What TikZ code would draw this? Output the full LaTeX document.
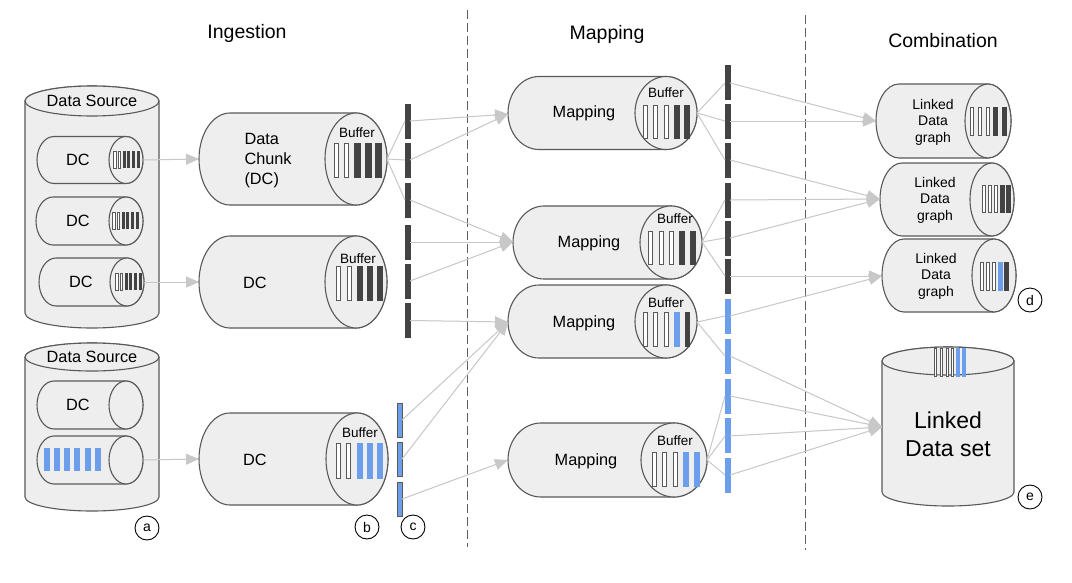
\documentclass[tikz,border=0pt]{standalone}
\usepackage{fontspec}
\setmainfont{Liberation Sans}
\usetikzlibrary{arrows.meta}
\definecolor{cylfill}{HTML}{EEEEEE}
\definecolor{cylline}{HTML}{595959}
\definecolor{darkbar}{HTML}{434343}
\definecolor{bluebar}{HTML}{6D9EEB}
\definecolor{connc}{HTML}{C8C8C8}
\definecolor{dashc}{HTML}{606060}
\tikzset{
  cyl/.style={fill=cylfill, draw=cylline, line width=1.1pt},
  wbar/.style={fill=white, draw=cylline, line width=0.8pt},
  sbar/.style={fill=white, draw=cylline, line width=0.6pt},
  dbar/.style={fill=darkbar, draw=darkbar, line width=0.5pt},
  ddbar/.style={fill=darkbar, draw=none},
  bbar/.style={fill=bluebar, draw=bluebar, line width=0.5pt},
  cbar/.style={fill=bluebar, draw=cylline, line width=0.8pt},
  conn/.style={draw=connc, line width=1pt},
  arr/.style={conn, -{Triangle[length=13pt,width=11pt]}, fill=connc},
  lbl/.style={circle, draw=black, line width=0.9pt, minimum size=24pt, inner sep=0pt, font=\fontsize{14}{16}\selectfont},
  ttl/.style={font=\fontsize{19.5}{22}\selectfont},
  txt/.style={font=\fontsize{16.3}{20}\selectfont, align=center},
  buf/.style={font=\fontsize{13.5}{15}\selectfont},
  ldt/.style={font=\fontsize{14}{16.5}\selectfont, align=center},
  sep/.style={draw=dashc, line width=1pt, dash pattern=on 9pt off 4pt},
}
\newcommand{\hcyl}[5]{% L R cy ry rx
  \filldraw[cyl] ({#1+#5},{#3-#4}) arc[start angle=270,end angle=90,x radius=#5,y radius=#4]
    -- ({#2-#5},{#3+#4}) arc[start angle=90,end angle=-90,x radius=#5,y radius=#4] -- cycle;
  \filldraw[cyl] ({#2-#5},#3) ellipse[x radius=#5,y radius=#4];
}
\newcommand{\vcyl}[5]{% cx rx ty by ry
  \filldraw[cyl] ({#1-#2},#3) -- ({#1-#2},#4) arc[start angle=180,end angle=0,x radius=#2,y radius=#5]
    -- ({#1+#2},#3) arc[start angle=0,end angle=-180,x radius=#2,y radius=#5] -- cycle;
  \filldraw[cyl] (#1,#3) ellipse[x radius=#2,y radius=#5];
}
\begin{document}
\begin{tikzpicture}[x=1pt,y=-1pt]
\useasboundingbox[fill=white] (0,0) rectangle (1072,582);

% titles
\node[ttl] (tIng) at (247,33) {Ingestion};
\node[ttl] (tMap) at (607,34) {Mapping};
\node[ttl] (tCom) at (943,41) {Combination};

% separators
\coordinate (s1a) at (467,10); \coordinate (s1b) at (467,547);
\coordinate (s2a) at (805,15); \coordinate (s2b) at (805,550);
\draw[sep] (s1a) -- (s1b);
\draw[sep] (s2a) -- (s2b);

% ---------- Data sources ----------
\vcyl{92}{67}{101}{313}{15}
\node[txt] (ds1) at (92,101) {Data Source};
\hcyl{37}{143}{160}{23.5}{17}
\hcyl{36}{143}{221}{24}{17}
\hcyl{39}{144}{282}{24}{17}
\node[txt] (dc1) at (78,160) {DC};
\node[txt] (dc2) at (78,221) {DC};
\node[txt] (dc3) at (81,282) {DC};
\foreach \i in {0,1} {\draw[sbar] ({113.5+4.8*\i},151) rectangle ++(2.4,17);}
\foreach \i in {2,...,5} {\fill[darkbar] ({113+4.8*\i},151) rectangle ++(3,17);}
\foreach \i in {0,1} {\draw[sbar] ({112.5+4.8*\i},212) rectangle ++(2.4,17);}
\foreach \i in {2,...,5} {\fill[darkbar] ({112+4.8*\i},212) rectangle ++(3,17);}
\foreach \i in {0,1} {\draw[sbar] ({115.5+4.8*\i},273) rectangle ++(2.4,17);}
\foreach \i in {2,...,5} {\fill[darkbar] ({115+4.8*\i},273) rectangle ++(3,17);}

\vcyl{92}{67}{357}{497}{14}
\node[txt] (ds2) at (92,357) {Data Source};
\hcyl{37}{143}{405}{24}{17}
\hcyl{37}{143}{460}{24}{17}
\node[txt] (dc4) at (78,405) {DC};
\foreach \i in {0,...,5} {\draw[bbar] ({44+10.2*\i},448) rectangle ++(5,22);}
\node[lbl] (la) at (147,528) {a};

% ---------- Ingestion ----------
\hcyl{199}{387}{159}{46}{31}
\node[txt, align=left, anchor=west] (b1t) at (241,161) {Data\\Chunk\\(DC)};
\node[buf] (b1b) at (357,133) {Buffer};
\foreach \x in {334,344} {\draw[wbar] (\x,143) rectangle ++(4,34);}
\foreach \x in {354,365,375} {\draw[dbar] (\x,143) rectangle ++(6,34);}

\hcyl{199}{387}{282}{46}{31}
\node[txt] (b2t) at (255,283) {DC};
\node[buf] (b2b) at (358,259) {Buffer};
\foreach \x in {336,347} {\draw[wbar] (\x,266) rectangle ++(4,34);}
\foreach \x in {357,367,377} {\draw[dbar] (\x,266) rectangle ++(5.5,34);}

\hcyl{199}{388}{459}{46}{31}
\node[txt] (b3t) at (255,460) {DC};
\node[buf] (b3b) at (360,433) {Buffer};
\foreach \x in {336,346} {\draw[wbar] (\x,443) rectangle ++(4,35);}
\foreach \x in {357,367,377} {\draw[bbar] (\x,443) rectangle ++(5.5,35);}

\node[lbl] (lb) at (367,527) {b};
\node[lbl] (lc) at (413,527) {c};

% ingestion output bars
\foreach \y in {104,143,183,225,264,303} {\draw[dbar] (405,\y) rectangle ++(5,34);}
\foreach \y in {403,442,482} {\draw[cbar] (397,\y) rectangle ++(5,34);}

% ---------- Mapping ----------
\hcyl{508}{697}{113}{36.5}{31}
\node[txt] (m1t) at (584,113) {Mapping};
\node[buf] (m1b) at (666,93) {Buffer};
\foreach \x in {643,653,664} {\draw[wbar] (\x,105) rectangle ++(4,33);}
\foreach \x in {674,684} {\draw[dbar] (\x,105) rectangle ++(5,33);}

\hcyl{513}{702}{242.5}{36.5}{31}
\node[txt] (m2t) at (589,243) {Mapping};
\node[buf] (m2b) at (675,219) {Buffer};
\foreach \x in {648,659,669} {\draw[wbar] (\x,231) rectangle ++(4,33);}
\foreach \x in {679,690} {\draw[dbar] (\x,231) rectangle ++(5,33);}

\hcyl{508}{697}{321.5}{36.5}{31}
\node[txt] (m3t) at (584,323) {Mapping};
\node[buf] (m3b) at (666,303) {Buffer};
\foreach \x in {643,653,664} {\draw[wbar] (\x,312) rectangle ++(4,34);}
\draw[bbar] (674,312) rectangle ++(5,34);
\draw[dbar] (685,312) rectangle ++(4.5,34);

\hcyl{508}{707}{460}{37}{33}
\node[txt] (m4t) at (586,461) {Mapping};
\node[buf] (m4b) at (675,441) {Buffer};
\foreach \x in {652,662,673} {\draw[wbar] (\x,452) rectangle ++(4,34);}
\foreach \x in {683,694} {\draw[bbar] (\x,452) rectangle ++(5,34);}

% mapping output bars
\foreach \y in {65,104,143,183,221,259} {\draw[dbar] (725,\y) rectangle ++(5,34);}
\foreach \y in {299,339,379,418,458} {\draw[bbar] (725,\y) rectangle ++(5,34);}

% ---------- Combination ----------
\hcyl{876}{1011}{121}{37}{23}
\node[ldt] (ld1t) at (933,122) {Linked\\Data\\graph};
\foreach \x in {970,978,986} {\draw[sbar] (\x,107) rectangle ++(3,28);}
\foreach \x in {993,1002} {\draw[dbar] (\x,107) rectangle ++(4.5,28);}

\hcyl{880}{1014}{199.5}{36.5}{22}
\node[ldt] (ld2t) at (935,200) {Linked\\Data\\graph};
\foreach \x in {982,988,994} {\draw[sbar] (\x,185) rectangle ++(3,27);}
\foreach \x in {1000,1006} {\draw[dbar] (\x,185) rectangle ++(4,27);}

\hcyl{882}{1016}{275.5}{36.5}{22}
\node[ldt] (ld3t) at (936,276) {Linked\\Data\\graph};
\foreach \x in {980,986,992} {\draw[sbar] (\x,262) rectangle ++(3,28);}
\draw[bbar] (998,262) rectangle ++(4,28);
\draw[dbar] (1004.5,262) rectangle ++(4,28);
\node[lbl] (ld) at (1030,300) {d};

\vcyl{948}{66}{361}{492}{14}
\foreach \x in {934,940,946,951} {\draw[sbar] (\x,348) rectangle ++(2.6,28);}
\foreach \x in {956,962} {\draw[bbar] (\x,348) rectangle ++(3,28);}
\node[font=\fontsize{23}{28}\selectfont, align=center] (lds) at (948,434) {Linked\\Data set};
\node[lbl] (le) at (1030,497) {e};

% ---------- connection points ----------
\coordinate (ds1o) at (143,160); \coordinate (b1i) at (199,159);
\coordinate (ds3o) at (144,282); \coordinate (b2i) at (199,282);
\coordinate (ds5o) at (143,460); \coordinate (b3i) at (199,459);
\coordinate (b1o) at (387,159);
\foreach \n/\y in {1/121,2/160,3/200,4/242,5/281,6/320.5} {
  \coordinate (ib\n l) at (405,\y); \coordinate (ib\n r) at (410,\y);}
\foreach \n/\y in {1/420,2/459,3/499} {\coordinate (cb\n) at (402,\y);}
\coordinate (m1i) at (508,114); \coordinate (m2i) at (513,242);
\coordinate (m3i) at (508,322); \coordinate (m4i) at (508,460);
\coordinate (m1o) at (697,113); \coordinate (m2o) at (702,242);
\coordinate (m3o) at (697,322); \coordinate (m4o) at (707,460);
\foreach \n/\y in {1/83,2/121,3/160,4/200,5/238,6/276,7/316,8/356,9/396,10/436,11/475} {
  \coordinate (ob\n l) at (725,\y); \coordinate (ob\n r) at (730,\y);}
\coordinate (ld1i) at (876,121); \coordinate (ld2i) at (880,199);
\coordinate (ld3i) at (882,276); \coordinate (ldsi) at (882,427);

% ---------- connectors ----------
\draw[arr] (ds1o) -- (b1i);
\draw[arr] (ds3o) -- (b2i);
\draw[arr] (ds5o) -- (b3i);
\draw[conn] (b1o) -- (ib1l);
\draw[conn] (b1o) -- (ib2l);
\draw[conn] (b1o) -- (ib3l);
\draw[arr] (ib1r) -- (m1i);
\draw[arr] (ib2r) -- (m1i);
\draw[arr] (ib3r) -- (m2i);
\draw[arr] (ib4r) -- (m2i);
\draw[arr] (ib5r) -- (m2i);
\draw[arr] (ib6r) -- (m3i);
\draw[arr] (cb1) -- (m3i);
\draw[arr] (cb2) -- (m3i);
\draw[arr] (cb3) -- (m4i);

\draw[conn] (m1o) -- (ob1l); \draw[conn] (m1o) -- (ob2l); \draw[conn] (m1o) -- (ob3l);
\draw[conn] (m2o) -- (ob4l); \draw[conn] (m2o) -- (ob5l); \draw[conn] (m2o) -- (ob6l);
\draw[conn] (m3o) -- (ob7l); \draw[conn] (m3o) -- (ob8l);
\draw[conn] (m4o) -- (ob9l); \draw[conn] (m4o) -- (ob10l); \draw[conn] (m4o) -- (ob11l);

\draw[arr] (ob1r) -- (ld1i);
\draw[arr] (ob2r) -- (ld1i);
\draw[arr] (ob3r) -- (ld2i);
\draw[arr] (ob4r) -- (ld2i);
\draw[arr] (ob5r) -- (ld2i);
\draw[arr] (ob6r) -- (ld3i);
\draw[arr] (ob7r) -- (ld3i);
\draw[arr] (ob8r) -- (ldsi);
\draw[arr] (ob9r) -- (ldsi);
\draw[arr] (ob10r) -- (ldsi);
\draw[arr] (ob11r) -- (ldsi);
\end{tikzpicture}
\end{document}
